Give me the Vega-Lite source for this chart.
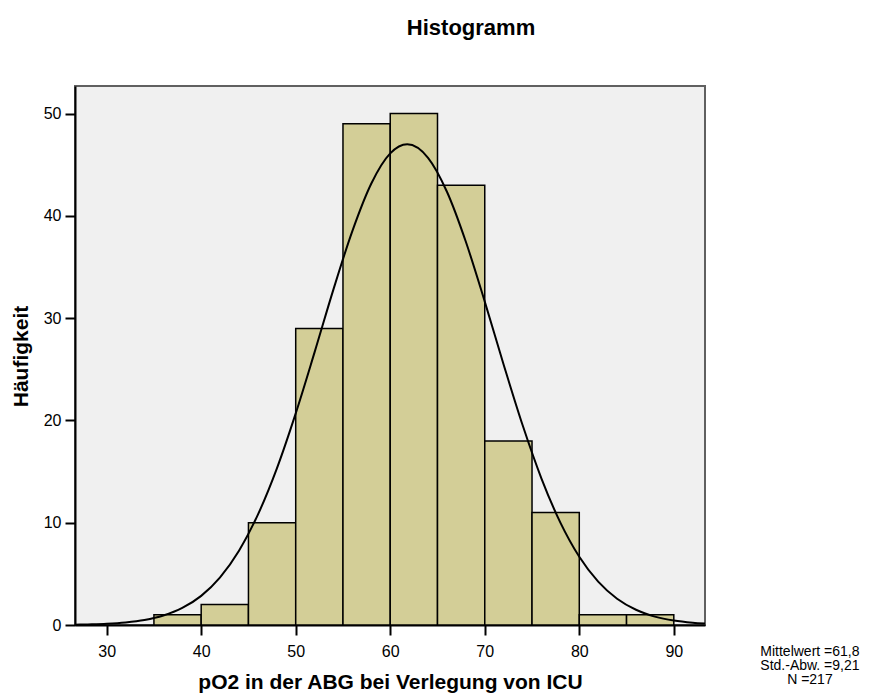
{
  "$schema": "https://vega.github.io/schema/vega-lite/v6.json",
  "width": 630,
  "height": 539,
  "autosize": {"type": "none"},
  "padding": {"left": 75, "top": 86, "right": 186, "bottom": 70},
  "background": "white",
  "config": {
    "font": "Liberation Sans",
    "view": {"fill": "#F0F0F0", "stroke": "#606060", "strokeWidth": 2},
    "axis": {
      "grid": false,
      "domainColor": "black",
      "domainWidth": 2,
      "tickColor": "black",
      "tickWidth": 2,
      "tickSize": 10,
      "labelFont": "Liberation Sans",
      "labelFontSize": 16,
      "labelColor": "black",
      "titleFont": "Liberation Sans",
      "titleFontSize": 21,
      "titleFontWeight": "bold",
      "titleColor": "black"
    }
  },
  "title": {
    "text": "Histogramm",
    "font": "Liberation Sans",
    "fontSize": 22,
    "fontWeight": "bold",
    "color": "black",
    "anchor": "middle",
    "frame": "group",
    "dx": 81,
    "offset": 46
  },
  "datasets": {
    "bins": [
      {"bin_start": 35, "bin_end": 40, "count": 1},
      {"bin_start": 40, "bin_end": 45, "count": 2},
      {"bin_start": 45, "bin_end": 50, "count": 10},
      {"bin_start": 50, "bin_end": 55, "count": 29},
      {"bin_start": 55, "bin_end": 60, "count": 49},
      {"bin_start": 60, "bin_end": 65, "count": 50},
      {"bin_start": 65, "bin_end": 70, "count": 43},
      {"bin_start": 70, "bin_end": 75, "count": 18},
      {"bin_start": 75, "bin_end": 80, "count": 11},
      {"bin_start": 80, "bin_end": 85, "count": 1},
      {"bin_start": 85, "bin_end": 90, "count": 1}
    ],
    "curve": [
      {"x": 26.65, "y": 0.03}, {"x": 28, "y": 0.06}, {"x": 30, "y": 0.12}, {"x": 32, "y": 0.25},
      {"x": 34, "y": 0.49}, {"x": 36, "y": 0.93}, {"x": 38, "y": 1.67}, {"x": 40, "y": 2.85},
      {"x": 42, "y": 4.66}, {"x": 44, "y": 7.26}, {"x": 46, "y": 10.79}, {"x": 48, "y": 15.29},
      {"x": 50, "y": 20.69}, {"x": 52, "y": 26.68}, {"x": 54, "y": 32.84}, {"x": 56, "y": 38.54},
      {"x": 58, "y": 43.17}, {"x": 60, "y": 46.11}, {"x": 61.8, "y": 47.0}, {"x": 64, "y": 45.68},
      {"x": 66, "y": 42.36}, {"x": 68, "y": 37.47}, {"x": 70, "y": 31.62}, {"x": 72, "y": 25.45},
      {"x": 74, "y": 19.55}, {"x": 76, "y": 14.32}, {"x": 78, "y": 10.01}, {"x": 80, "y": 6.67},
      {"x": 82, "y": 4.24}, {"x": 84, "y": 2.57}, {"x": 86, "y": 1.49}, {"x": 88, "y": 0.82},
      {"x": 90, "y": 0.43}, {"x": 92, "y": 0.22}, {"x": 93.3, "y": 0.14}
    ],
    "stats": [
      {"label": "Mittelwert =61,8\nStd.-Abw. =9,21\nN =217"}
    ]
  },
  "layer": [
    {
      "data": {"name": "bins"},
      "mark": {"type": "rect", "fill": "#D3CE97", "stroke": "black", "strokeWidth": 1.5},
      "encoding": {
        "x": {
          "field": "bin_start",
          "type": "quantitative",
          "scale": {"domain": [26.65, 93.3], "nice": false, "zero": false},
          "axis": {
            "values": [30, 40, 50, 60, 70, 80, 90],
            "labelPadding": 8,
            "title": "pO2 in der ABG bei Verlegung von ICU",
            "titleX": 315,
            "titleY": 63,
            "titleAnchor": "middle",
            "titleAlign": "center",
            "titleBaseline": "alphabetic"
          }
        },
        "x2": {"field": "bin_end"},
        "y": {
          "field": "count",
          "type": "quantitative",
          "scale": {"domain": [0, 52.7], "nice": false},
          "axis": {
            "values": [0, 10, 20, 30, 40, 50],
            "labelPadding": 4,
            "title": "Häufigkeit",
            "titleAngle": -90,
            "titleX": -48,
            "titleY": 270,
            "titleAlign": "center",
            "titleBaseline": "alphabetic"
          }
        }
      }
    },
    {
      "data": {"name": "curve"},
      "mark": {"type": "line", "color": "black", "strokeWidth": 2, "interpolate": "monotone"},
      "encoding": {
        "x": {"field": "x", "type": "quantitative"},
        "y": {"field": "y", "type": "quantitative"}
      }
    },
    {
      "data": {"name": "stats"},
      "mark": {"type": "text", "align": "center", "baseline": "middle", "lineBreak": "\n", "font": "Liberation Sans", "fontSize": 14, "lineHeight": 14, "color": "black"},
      "encoding": {
        "text": {"field": "label"},
        "x": {"datum": 104.4, "type": "quantitative"},
        "y": {"datum": -2.6, "type": "quantitative"}
      }
    }
  ]
}
